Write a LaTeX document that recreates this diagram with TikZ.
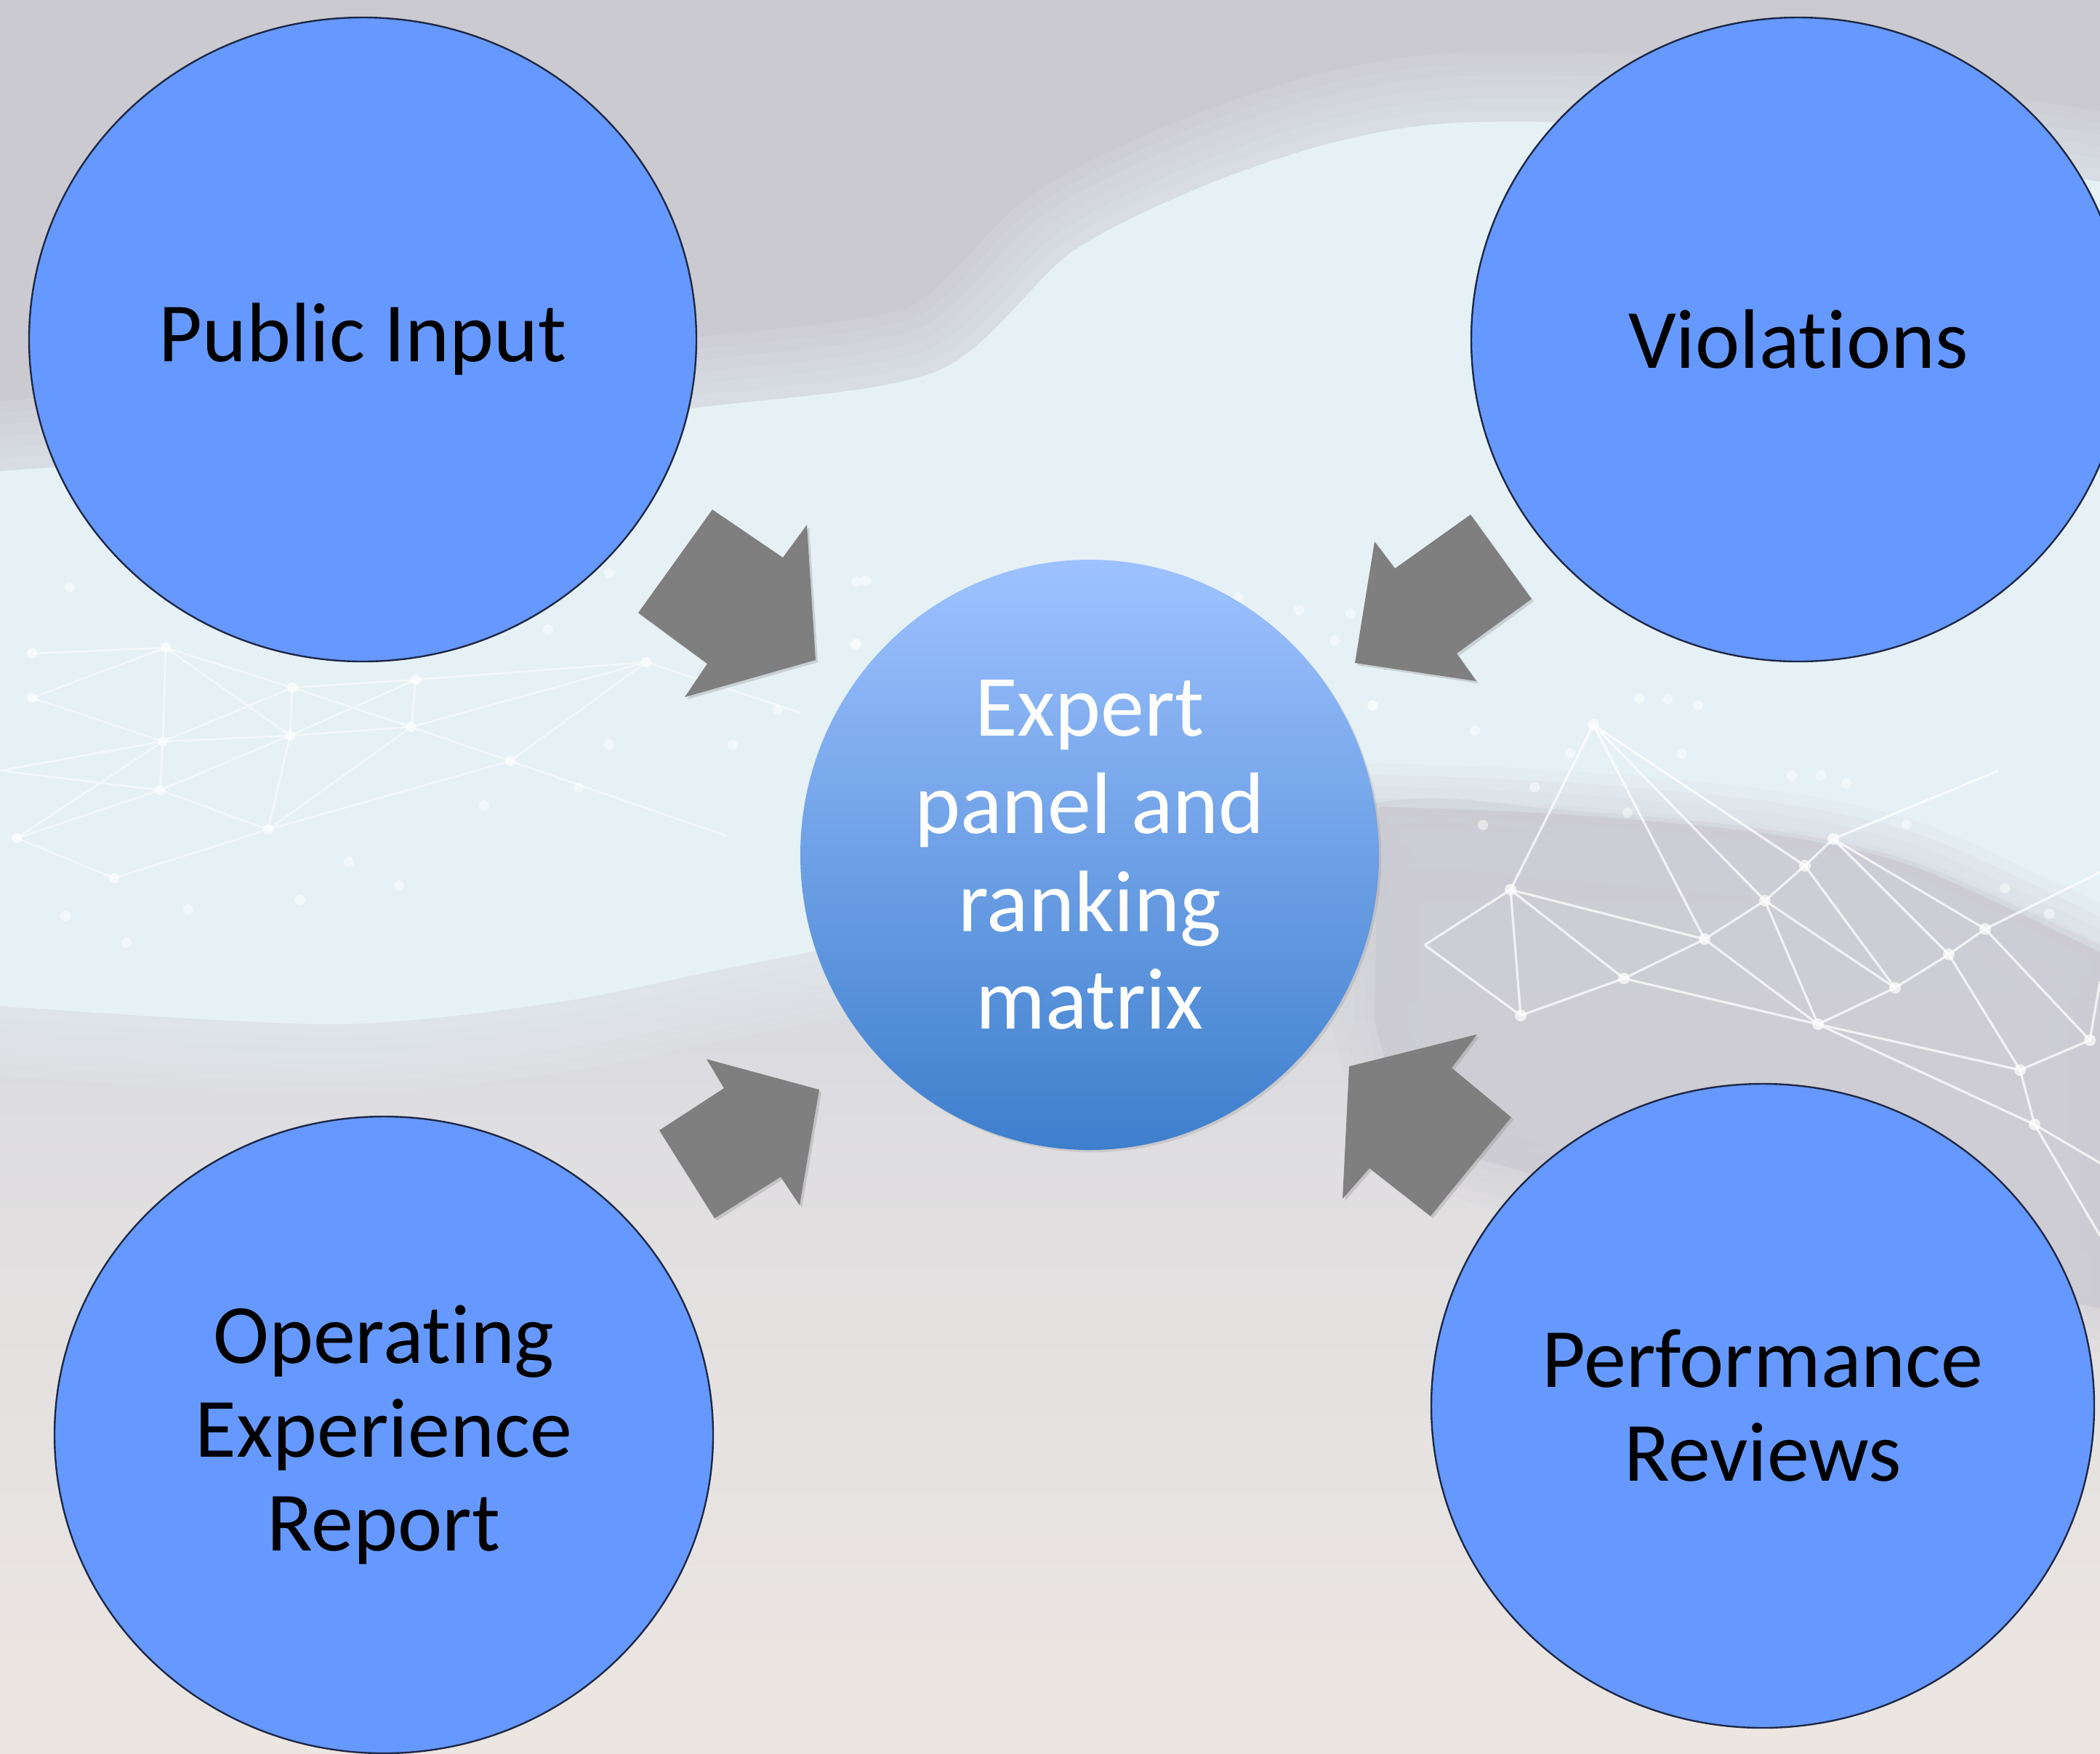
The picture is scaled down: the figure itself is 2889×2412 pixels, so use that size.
\documentclass[tikz,border=0pt]{standalone}
\usepackage{fontspec}
\setmainfont{Carlito}[Ligatures=NoCommon]
\usetikzlibrary{shapes.geometric,shadows}
\definecolor{bgtop}{RGB}{203,202,208}
\definecolor{bgmid}{RGB}{214,216,223}
\definecolor{bgbot}{RGB}{236,230,225}
\definecolor{band}{RGB}{230,241,246}
\definecolor{meshgray}{RGB}{204,203,211}
\definecolor{ellblue}{RGB}{102,153,255}
\definecolor{ellline}{RGB}{30,40,70}
\definecolor{ctop}{RGB}{158,194,255}
\definecolor{cbot}{RGB}{62,127,205}
\definecolor{arrowgray}{RGB}{127,127,127}
\pgfdeclareverticalshading{bgshade}{100bp}{color(0bp)=(bgbot); color(25bp)=(bgbot); color(40bp)=(bgbot!50!bgmid); color(50bp)=(bgmid); color(62bp)=(bgtop); color(75bp)=(bgtop); color(100bp)=(bgtop)}
\begin{document}
\begin{tikzpicture}[x=0.25pt,y=-0.25pt,
  bubble/.style={ellipse, draw=ellline, line width=0.6pt, fill=ellblue, inner sep=0pt,
    align=center, text=black, font=\fontsize{29}{32.25}\selectfont},
  hub/.style={ellipse, inner sep=0pt, align=center, text=white, top color=ctop, bottom color=cbot,
    font=\fontsize{30}{33.6}\selectfont,
    drop shadow={opacity=0.22, shadow xshift=0.8pt, shadow yshift=-0.8pt}},
  blockarrow/.style={fill=arrowgray, drop shadow={opacity=0.28, shadow xshift=0.8pt, shadow yshift=-0.8pt}},
  meshline/.style={white, opacity=0.55, line width=0.6pt},
  meshlineb/.style={white, opacity=0.75, line width=0.8pt},
  meshdot/.style={white, opacity=0.7}]
\useasboundingbox (0,0) rectangle (2889,2412);
\clip (0,0) rectangle (2889,2412);
% background
\fill[shading=bgshade] (0,0) rectangle (2889,2412);
\def\bandpath{plot[smooth] coordinates {(0,648) (500,610) (958,561) (1290,510) (1474,347) (1658,255) (1842,194) (2027,168) (2400,180) (2889,250)}
  -- plot[smooth] coordinates {(2889,1300) (2633,1186) (2425,1140) (2147,1114) (1897,1104) (1500,1230) (995,1333) (765,1379) (459,1409) (0,1384)} -- cycle}
\foreach \w in {48,40,32,24,16,8}
  \draw[band, line width=\w pt, opacity=0.12, line join=round] \bandpath;
\fill[band] \bandpath;
\def\graypath{plot[smooth] coordinates {(1897,1110) (2147,1120) (2425,1146) (2633,1192) (2889,1310)}
  -- (2889,1800) -- plot[smooth] coordinates {(2500,1720) (2200,1640) (1960,1560) (1890,1400)} -- cycle}
\foreach \w in {30,22,14,6}
  \draw[meshgray, line width=\w pt, opacity=0.12, line join=round] \graypath;
\fill[meshgray, opacity=0.85] \graypath;
% left mesh
\coordinate (L1) at (44,899); \coordinate (L2) at (44,960); \coordinate (L3) at (228,891);
\coordinate (L4) at (402,946); \coordinate (L5) at (572,935); \coordinate (L6) at (224,1020);
\coordinate (L7) at (399,1012); \coordinate (L8) at (566,1000); \coordinate (L9) at (702,1047);
\coordinate (L10) at (220,1087); \coordinate (L11) at (369,1141); \coordinate (L12) at (23,1153);
\coordinate (L13) at (157,1208); \coordinate (L14) at (889,911);
\coordinate (L15) at (1000,1150); \coordinate (L16) at (1100,980); \coordinate (L17) at (0,1060);
\draw[meshline] (L3)--(L4)--(L5)--(L14) (L3)--(L6)--(L7)--(L8)--(L9)--(L15)
  (L4)--(L7)--(L11) (L5)--(L8)--(L11) (L6)--(L10)--(L11)--(L13)--(L12)--(L10)
  (L4)--(L6) (L5)--(L7)--(L10) (L9)--(L11) (L9)--(L14)--(L16) (L1)--(L3) (L2)--(L3)
  (L2)--(L6)--(L12) (L17)--(L6) (L17)--(L10) (L4)--(L8) (L3)--(L7) (L8)--(L14);
\foreach \p in {L1,L2,L3,L4,L5,L6,L7,L8,L9,L10,L11,L12,L13,L14}
  \fill[meshdot] (\p) circle (7);
% right mesh
\coordinate (R1) at (2192,997); \coordinate (R2) at (2483,1191); \coordinate (R3) at (2428,1239);
\coordinate (R4) at (2345,1292); \coordinate (R5) at (2234,1346); \coordinate (R6) at (2522,1154);
\coordinate (R7) at (2607,1359); \coordinate (R8) at (2681,1313); \coordinate (R9) at (2731,1278);
\coordinate (R10) at (2501,1409); \coordinate (R11) at (2779,1472); \coordinate (R12) at (2875,1431);
\coordinate (R13) at (2799,1547); \coordinate (R14) at (2078,1224); \coordinate (R15) at (2092,1397);
\coordinate (R16) at (2889,1600); \coordinate (R17) at (2889,1350); \coordinate (R18) at (2889,1200);
\coordinate (R19) at (2750,1060); \coordinate (R20) at (1960,1300); \coordinate (R21) at (2889,1700);
\draw[meshlineb] (R1)--(R2)--(R3)--(R4)--(R5)--(R14)--(R1)--(R3) (R2)--(R6)--(R9)--(R8)--(R7)--(R3)
  (R4)--(R10)--(R7) (R10)--(R11)--(R12) (R11)--(R13)--(R16) (R8)--(R11) (R9)--(R12)--(R17)
  (R14)--(R4) (R15)--(R5) (R15)--(R14) (R5)--(R10) (R6)--(R8) (R2)--(R7) (R9)--(R18) (R6)--(R19)
  (R20)--(R14) (R20)--(R15) (R10)--(R13) (R13)--(R21) (R1)--(R4) (R3)--(R10);
\foreach \p in {R1,R2,R3,R4,R5,R6,R7,R8,R9,R10,R11,R12,R13,R14,R15}
  \fill[meshdot] (\p) circle (8);
% scattered dots
\foreach \x/\y in {838/1024,796/1083,666/1108,480/1186,549/1218,413/1238,259/1251,90/1260,174/1297,
  1070/976,1008/1025,754/866,1178/800,1178/886,838/788,96/808,1889/971,2029/1005,2111/1083,2239/1118,
  2255/961,2294/962,2336/970,2314/1037,2160/1036,2465/1067,2505/1067,2540/1078,2623/1134,2758/1222,
  2819/1257,2040/1135,1191/799,1176/887,1787/839,1858/844,1836/881,1888/970,1703/822}
  \fill[meshdot, opacity=0.5] (\x,\y) circle (7);
% outer bubbles
\node[bubble, minimum width=229.5pt, minimum height=221.5pt] (public) at (499,467) {Public Input};
\node[bubble, minimum width=225pt, minimum height=221.5pt] (viol) at (2474,467) {Violations};
\node[bubble, minimum width=226.5pt, minimum height=219pt] (oper) at (528,1974) {Operating\\Experience\\Report};
\node[bubble, minimum width=228pt, minimum height=221.5pt] (perf) at (2425,1934) {Performance\\Reviews};
% centre
\node[hub, minimum width=199pt, minimum height=203pt] (hub) at (1499,1176) {Expert\\panel and\\ranking\\matrix};
% block arrows
\fill[blockarrow] (980,701) -- (1077,767) -- (1110,722) -- (1122,908) -- (942,959) -- (973,913) -- (878,843) -- cycle;
\fill[blockarrow] (2023,708) -- (2107,824) -- (2004,899) -- (2031,937) -- (1864,912) -- (1891,745) -- (1919,782) -- cycle;
\fill[blockarrow] (972,1457) -- (1127,1499) -- (1100,1658) -- (1074,1619) -- (983,1676) -- (907,1555) -- (996,1497) -- cycle;
\fill[blockarrow] (2032,1423) -- (1997,1469) -- (2079,1537) -- (1968,1673) -- (1884,1607) -- (1847,1649) -- (1856,1467) -- cycle;
\end{tikzpicture}
\end{document}
